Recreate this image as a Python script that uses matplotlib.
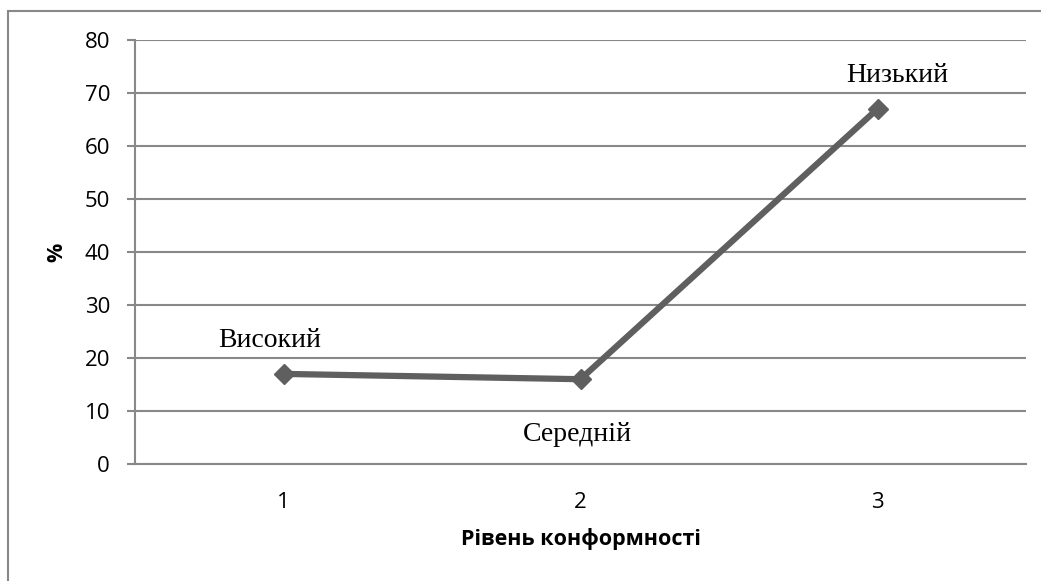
import matplotlib.pyplot as plt
from matplotlib.patches import Rectangle

# дані
rivni = [1, 2, 3]
vidsotky = [17, 16, 67]
pidpysy = ["Високий", "Середній", "Низький"]
zsuvy = [(-10, 24), (-2, -40), (14, 24)]  # зсув підписів, пт

fig = plt.figure(figsize=(10.41, 5.81), dpi=100)
ax = fig.add_axes([135/1041, 117/581, 891/1041, 424/581])

# рамка навколо діаграми
fig.patches.append(Rectangle((8/1041, -0.1), 1.2, 1.1 - 11/581, transform=fig.transFigure,
                             fill=False, edgecolor='#888888', linewidth=1.5))

ax.plot(rivni, vidsotky, color='#5f5f5f', linewidth=4.5, marker='D',
        markersize=10, markerfacecolor='#5f5f5f', markeredgecolor='#5f5f5f')

for x, y, t, d in zip(rivni, vidsotky, pidpysy, zsuvy):
    ax.annotate(t, (x, y), xytext=d, textcoords='offset points',
                ha='center', va='center', fontsize=20, family='Liberation Serif')

ax.set_xlim(0.5, 3.5)
ax.set_ylim(0, 80)
ax.set_yticks(range(0, 81, 10))
ax.set_xticks(rivni)
ax.grid(axis='y', color='#888888', linewidth=1.5)
ax.set_axisbelow(True)

for s in ['top', 'right']:
    ax.spines[s].set_visible(False)
ax.spines['left'].set_color('#888888')
ax.spines['left'].set_linewidth(1.5)
ax.spines['bottom'].set_color('#888888')
ax.spines['bottom'].set_linewidth(1.5)

ax.tick_params(axis='y', length=6, width=1.5, color='#888888', pad=12, labelsize=16)
ax.tick_params(axis='x', length=0, pad=20, labelsize=16)
for lbl in ax.get_xticklabels() + ax.get_yticklabels():
    lbl.set_family('Open Sans')

ax.set_xlabel("Рівень конформності", fontsize=15.5, fontweight='bold', family='Open Sans', labelpad=11)
ax.set_ylabel("%", fontsize=15.5, fontweight='bold', family='Open Sans', labelpad=12)

fig.savefig('out.png', dpi=100)
